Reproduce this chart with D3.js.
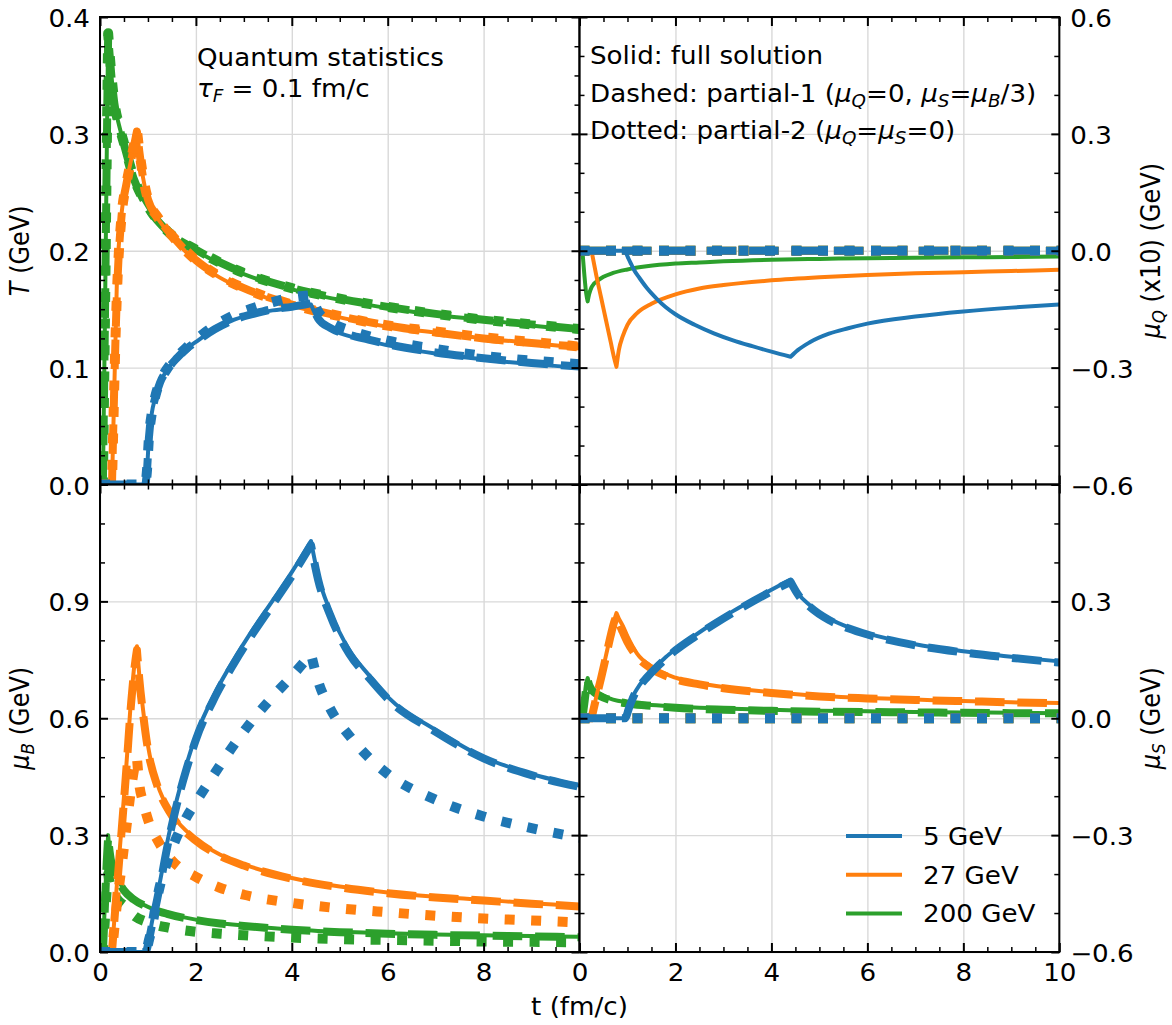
<!DOCTYPE html>
<html>
<head>
<meta charset="utf-8">
<script src="https://cdn.jsdelivr.net/npm/d3@7"></script>
<style>
  html, body { margin: 0; padding: 0; background: #ffffff; }
  svg { display: block; font-family: "DejaVu Sans", sans-serif; }
  text { white-space: pre; }
</style>
</head>
<body>
<svg id="fig" width="1172" height="1025"></svg>
<script>
// ---------------- data ----------------
// time grids (fm/c), one per collision energy
const time200 = [0, 0.06, 0.1, 0.14, 0.17, 0.2, 0.25, 0.3, 0.4, 0.5, 0.7, 1.0, 1.4, 2.0, 2.5, 3.0, 4.0, 5.0, 6.0, 7.0, 8.0, 9.0, 10.0];
const time27  = [0, 0.25, 0.35, 0.45, 0.55, 0.65, 0.72, 0.77, 0.82, 0.9, 1.0, 1.2, 1.5, 2.0, 2.5, 3.0, 4.0, 5.0, 6.0, 7.0, 8.0, 9.0, 10.0];
const time5   = [0, 0.95, 0.98, 1.02, 1.08, 1.15, 1.25, 1.4, 1.6, 1.8, 2.0, 2.4, 2.8, 3.2, 3.6, 4.0, 4.4, 4.55, 4.8, 5.2, 5.6, 6.0, 7.0, 8.0, 9.0, 10.0];
const timeFlat = [0, 10];
const zeroFlat = [0, 0];

// temperature T (GeV)
const T_200_full = [0, 0, 0.13, 0.28, 0.387, 0.37, 0.345, 0.327, 0.307, 0.292, 0.262, 0.237, 0.216, 0.200, 0.189, 0.180, 0.167, 0.158, 0.151, 0.145, 0.141, 0.136, 0.132];
const T_200_p1   = [0, 0, 0.13, 0.28, 0.385, 0.368, 0.344, 0.326, 0.306, 0.291, 0.262, 0.237, 0.217, 0.201, 0.190, 0.181, 0.168, 0.159, 0.152, 0.146, 0.141, 0.137, 0.133];
const T_200_p2   = [0, 0, 0.13, 0.28, 0.386, 0.369, 0.345, 0.327, 0.307, 0.292, 0.263, 0.238, 0.217, 0.201, 0.190, 0.181, 0.168, 0.159, 0.152, 0.146, 0.141, 0.137, 0.133];
const T_27_full  = [0, 0, 0.17, 0.232, 0.258, 0.278, 0.293, 0.303, 0.285, 0.262, 0.243, 0.228, 0.212, 0.191, 0.177, 0.167, 0.153, 0.143, 0.135, 0.130, 0.125, 0.121, 0.117];
const T_27_p1    = [0, 0, 0.16, 0.230, 0.257, 0.277, 0.292, 0.302, 0.285, 0.262, 0.244, 0.229, 0.213, 0.192, 0.178, 0.168, 0.154, 0.144, 0.136, 0.130, 0.125, 0.121, 0.118];
const T_27_p2    = [0, 0, 0.16, 0.230, 0.257, 0.278, 0.293, 0.303, 0.286, 0.263, 0.244, 0.229, 0.213, 0.192, 0.178, 0.168, 0.154, 0.144, 0.136, 0.131, 0.126, 0.122, 0.118];
const T_5_full   = [0, 0, 0.012, 0.040, 0.061, 0.074, 0.087, 0.098, 0.108, 0.116, 0.122, 0.133, 0.141, 0.146, 0.149, 0.151, 0.154, 0.141, 0.133, 0.127, 0.123, 0.119, 0.112, 0.107, 0.103, 0.100];
const T_5_p1     = [0, 0, 0.012, 0.040, 0.061, 0.074, 0.087, 0.098, 0.108, 0.116, 0.122, 0.133, 0.141, 0.146, 0.150, 0.152, 0.155, 0.142, 0.134, 0.128, 0.124, 0.120, 0.113, 0.108, 0.104, 0.101];
const T_5_p2     = [0, 0, 0.012, 0.040, 0.061, 0.075, 0.088, 0.099, 0.109, 0.117, 0.124, 0.136, 0.145, 0.151, 0.156, 0.160, 0.162, 0.148, 0.139, 0.132, 0.127, 0.123, 0.116, 0.110, 0.106, 0.103];

// electric charge chemical potential muQ (x10, GeV), full solution
const muQ_200_full = [0, 0, -0.06, -0.11, -0.13, -0.112, -0.094, -0.085, -0.075, -0.067, -0.057, -0.048, -0.040, -0.033, -0.030, -0.027, -0.023, -0.021, -0.019, -0.018, -0.017, -0.016, -0.015];
const muQ_27_full  = [0, 0, -0.063, -0.12, -0.177, -0.234, -0.274, -0.298, -0.255, -0.22, -0.19, -0.16, -0.136, -0.112, -0.097, -0.088, -0.076, -0.068, -0.062, -0.058, -0.055, -0.052, -0.049];
const muQ_5_full   = [0, 0, -0.008, -0.02, -0.035, -0.052, -0.07, -0.095, -0.122, -0.145, -0.163, -0.19, -0.212, -0.23, -0.245, -0.259, -0.272, -0.255, -0.235, -0.213, -0.199, -0.187, -0.169, -0.156, -0.146, -0.138];

// baryon chemical potential muB (GeV)
const muB_200_full = [0, 0, 0.12, 0.24, 0.30, 0.26, 0.225, 0.205, 0.18, 0.16, 0.136, 0.116, 0.099, 0.083, 0.074, 0.068, 0.058, 0.052, 0.048, 0.045, 0.043, 0.041, 0.039];
const muB_200_p1   = [0, 0, 0.11, 0.23, 0.295, 0.258, 0.222, 0.202, 0.178, 0.158, 0.135, 0.115, 0.098, 0.082, 0.073, 0.067, 0.057, 0.051, 0.047, 0.044, 0.042, 0.040, 0.038];
const muB_200_p2   = [0, 0, 0.08, 0.16, 0.20, 0.18, 0.16, 0.146, 0.13, 0.12, 0.094, 0.076, 0.063, 0.052, 0.047, 0.043, 0.037, 0.033, 0.031, 0.029, 0.027, 0.026, 0.025];
const muB_27_full  = [0, 0, 0.17, 0.32, 0.48, 0.65, 0.74, 0.785, 0.71, 0.62, 0.53, 0.43, 0.355, 0.29, 0.25, 0.225, 0.19, 0.168, 0.153, 0.142, 0.134, 0.125, 0.118];
const muB_27_p1    = [0, 0, 0.16, 0.31, 0.47, 0.64, 0.73, 0.775, 0.70, 0.61, 0.52, 0.425, 0.35, 0.286, 0.247, 0.222, 0.188, 0.166, 0.151, 0.140, 0.132, 0.124, 0.117];
const muB_27_p2    = [0, 0, 0.12, 0.22, 0.32, 0.42, 0.475, 0.50, 0.43, 0.385, 0.34, 0.287, 0.235, 0.193, 0.165, 0.147, 0.126, 0.112, 0.102, 0.093, 0.086, 0.081, 0.076];
const muB_5_full   = [0, 0, 0.01, 0.035, 0.075, 0.12, 0.18, 0.28, 0.39, 0.48, 0.555, 0.665, 0.752, 0.83, 0.902, 0.975, 1.055, 0.965, 0.875, 0.775, 0.712, 0.655, 0.57, 0.50, 0.457, 0.427];
const muB_5_p1     = [0, 0, 0.008, 0.03, 0.067, 0.11, 0.17, 0.268, 0.378, 0.468, 0.545, 0.655, 0.742, 0.82, 0.892, 0.965, 1.045, 0.955, 0.865, 0.765, 0.705, 0.65, 0.565, 0.497, 0.454, 0.424];
const muB_5_p2     = [0, 0, 0.01, 0.03, 0.06, 0.11, 0.17, 0.23, 0.295, 0.345, 0.385, 0.46, 0.533, 0.598, 0.655, 0.708, 0.765, 0.695, 0.625, 0.555, 0.50, 0.457, 0.391, 0.348, 0.318, 0.293];

// strangeness chemical potential muS (GeV)
const muS_200_full = [0, 0, 0.05, 0.09, 0.103, 0.09, 0.078, 0.072, 0.065, 0.058, 0.048, 0.041, 0.035, 0.030, 0.027, 0.025, 0.022, 0.019, 0.018, 0.016, 0.015, 0.014, 0.013];
const muS_200_p1   = [0, 0, 0.037, 0.077, 0.098, 0.086, 0.074, 0.067, 0.059, 0.053, 0.045, 0.038, 0.033, 0.027, 0.024, 0.022, 0.019, 0.017, 0.016, 0.015, 0.014, 0.013, 0.013];
const muS_27_full  = [0, 0, 0.055, 0.105, 0.16, 0.215, 0.25, 0.27, 0.256, 0.238, 0.21, 0.166, 0.133, 0.104, 0.09, 0.08, 0.067, 0.058, 0.052, 0.048, 0.044, 0.041, 0.039];
const muS_27_p1    = [0, 0, 0.053, 0.103, 0.157, 0.212, 0.246, 0.262, 0.245, 0.222, 0.195, 0.158, 0.127, 0.100, 0.087, 0.077, 0.065, 0.056, 0.051, 0.047, 0.044, 0.041, 0.039];
const muS_5_full   = [0, 0, 0.008, 0.025, 0.045, 0.065, 0.085, 0.107, 0.133, 0.157, 0.177, 0.212, 0.245, 0.275, 0.303, 0.330, 0.356, 0.322, 0.29, 0.256, 0.234, 0.218, 0.19, 0.172, 0.158, 0.146];
const muS_5_p1     = [0, 0, 0.006, 0.022, 0.042, 0.062, 0.082, 0.104, 0.130, 0.153, 0.174, 0.209, 0.241, 0.271, 0.299, 0.326, 0.350, 0.318, 0.286, 0.252, 0.231, 0.215, 0.187, 0.169, 0.155, 0.143];

// energies (drawn in this order so 5 GeV lies on top) and legend order
const drawOrder = ['200 GeV', '27 GeV', '5 GeV'];
const legendOrder = ['5 GeV', '27 GeV', '200 GeV'];
const energyColor = { '5 GeV': '#1f77b4', '27 GeV': '#ff7f0e', '200 GeV': '#2ca02c' };

// ticks and tick labels
const tDomain = [0, 10];
const xTicks = [0, 2, 4, 6, 8, 10];
const xTickLabelsLeft = [0, 2, 4, 6, 8];
const xTickLabelsRight = [0, 2, 4, 6, 8, 10];
const tTicks = [0, 0.1, 0.2, 0.3, 0.4];
const tTickLabels = [0, 0.1, 0.2, 0.3, 0.4];
const muBTicks = [0, 0.3, 0.6, 0.9, 1.2];
const muBTickLabels = [0, 0.3, 0.6, 0.9];
const muQTicks = [-0.6, -0.3, 0, 0.3, 0.6];
const muQTickLabels = [-0.6, -0.3, 0, 0.3, 0.6];
const muSTicks = [-0.6, -0.3, 0, 0.3, 0.6];
const muSTickLabels = [-0.6, -0.3, 0, 0.3];

// texts ([string, kind]; kind: '' regular, 'i' italic, 's' italic subscript)
const titleT   = [['T', 'i'], [' (GeV)', '']];
const titleMuQ = [['μ', 'i'], ['Q', 's'], [' (x10) (GeV)', '']];
const titleMuB = [['μ', 'i'], ['B', 's'], [' (GeV)', '']];
const titleMuS = [['μ', 'i'], ['S', 's'], [' (GeV)', '']];
const titleTime = [['t (fm/c)', '']];
const noteLeft = [
  [['Quantum statistics', '']],
  [['τ', 'i'], ['F', 's'], [' = 0.1 fm/c', '']]
];
const noteRight = [
  [['Solid: full solution', '']],
  [['Dashed: partial-1 (', ''], ['μ', 'i'], ['Q', 's'], ['=0, ', ''], ['μ', 'i'], ['S', 's'], ['=', ''], ['μ', 'i'], ['B', 's'], ['/3)', '']],
  [['Dotted: partial-2 (', ''], ['μ', 'i'], ['Q', 's'], ['=', ''], ['μ', 'i'], ['S', 's'], ['=0)', '']]
];

// series table: panel -> energy -> style -> [time, values]
const seriesTable = {
  T: {
    '200 GeV': { full: [time200, T_200_full], p1: [time200, T_200_p1], p2: [time200, T_200_p2] },
    '27 GeV':  { full: [time27, T_27_full],   p1: [time27, T_27_p1],   p2: [time27, T_27_p2] },
    '5 GeV':   { full: [time5, T_5_full],     p1: [time5, T_5_p1],     p2: [time5, T_5_p2] }
  },
  muQ: {
    '200 GeV': { full: [time200, muQ_200_full], p1: [timeFlat, zeroFlat], p2: [timeFlat, zeroFlat] },
    '27 GeV':  { full: [time27, muQ_27_full],   p1: [timeFlat, zeroFlat], p2: [timeFlat, zeroFlat] },
    '5 GeV':   { full: [time5, muQ_5_full],     p1: [timeFlat, zeroFlat], p2: [timeFlat, zeroFlat] }
  },
  muB: {
    '200 GeV': { full: [time200, muB_200_full], p1: [time200, muB_200_p1], p2: [time200, muB_200_p2] },
    '27 GeV':  { full: [time27, muB_27_full],   p1: [time27, muB_27_p1],   p2: [time27, muB_27_p2] },
    '5 GeV':   { full: [time5, muB_5_full],     p1: [time5, muB_5_p1],     p2: [time5, muB_5_p2] }
  },
  muS: {
    '200 GeV': { full: [time200, muS_200_full], p1: [time200, muS_200_p1], p2: [timeFlat, zeroFlat] },
    '27 GeV':  { full: [time27, muS_27_full],   p1: [time27, muS_27_p1],   p2: [timeFlat, zeroFlat] },
    '5 GeV':   { full: [time5, muS_5_full],     p1: [time5, muS_5_p1],     p2: [timeFlat, zeroFlat] }
  }
};

// ---------------- drawing ----------------
const FONT = 24;
const STRETCH = 1.09;       // glyphs are drawn slightly wide
const SUB_DY = 5;

const lineStyles = {
  full: { width: 4,  dash: null },
  p1:   { width: 8,  dash: [3.7, 1.6] },
  p2:   { width: 10, dash: [1, 1.65] }
};

const layout = {
  left: [100, 579.5], right: [579.5, 1059.3],
  top: [17, 484.5], bottom: [484.5, 952]
};

const panelDefs = [
  { key: 'T',   col: 'left',  row: 'top',    domain: [0, 0.4],    ticks: tTicks,   labels: tTickLabels,   minor: 0.025, side: 'left',  xLabels: null,             title: titleT },
  { key: 'muQ', col: 'right', row: 'top',    domain: [-0.6, 0.6], ticks: muQTicks, labels: muQTickLabels, minor: 0.1,   side: 'right', xLabels: null,             title: titleMuQ },
  { key: 'muB', col: 'left',  row: 'bottom', domain: [0, 1.2],    ticks: muBTicks, labels: muBTickLabels, minor: 0.1,   side: 'left',  xLabels: xTickLabelsLeft,  title: titleMuB },
  { key: 'muS', col: 'right', row: 'bottom', domain: [-0.6, 0.6], ticks: muSTicks, labels: muSTickLabels, minor: 0.1,   side: 'right', xLabels: xTickLabelsRight, title: titleMuS }
];

const svg = d3.select('#fig');
const defs = svg.append('defs');
const fmtY = d3.format('.1f');
const fmtX = d3.format('d');

function richText(parent, parts, anchor) {
  const text = parent.append('text')
    .attr('font-size', FONT)
    .attr('fill', '#000')
    .attr('text-anchor', anchor || 'start');
  let shift = 0;
  parts.forEach(([str, kind]) => {
    const sp = text.append('tspan').text(str);
    if (kind === 'i' || kind === 's') sp.attr('font-style', 'italic');
    if (kind === 's') sp.attr('font-size', FONT * 0.7);
    const target = kind === 's' ? SUB_DY : 0;
    if (target !== shift) { sp.attr('dy', target - shift); shift = target; }
  });
  return text;
}

function placeText(x, y, parts, anchor, rotate) {
  const g = svg.append('g').attr('transform', `translate(${x},${y})` + (rotate ? ` rotate(${rotate})` : ''));
  const t = richText(g, parts, anchor);
  t.attr('transform', rotate ? `scale(1,${STRETCH})` : `scale(${STRETCH},1)`);
  return t;
}

function styleAxis(sel, width) {
  sel.select('.domain').remove();
  sel.selectAll('.tick line').attr('stroke', '#000').attr('stroke-width', width);
  sel.attr('font-size', FONT).attr('font-family', '"DejaVu Sans", sans-serif');
  sel.selectAll('text').attr('fill', '#000').attr('transform', `scale(${STRETCH},1)`);
}

function minorValues(domain, step, majors) {
  return d3.range(domain[0], domain[1] + step * 0.01, step)
    .filter(v => !majors.some(m => Math.abs(m - v) < step * 0.01));
}

// Smooth each monotone stretch of a curve, keeping corners sharp where the
// direction changes; the pieces are joined into one continuous path so the
// dash pattern runs on without restarting.
function curvePath(points, x, y) {
  const runs = [];
  let start = 0, prev = null;
  for (let i = 1; i < points.length; i++) {
    const s = Math.sign(points[i][1] - points[i - 1][1]);
    if (prev !== null && s !== prev) { runs.push(points.slice(start, i)); start = i - 1; }
    prev = s;
  }
  runs.push(points.slice(start));
  const gen = d3.line().x(d => x(d[0])).y(d => y(d[1])).curve(d3.curveMonotoneX);
  return runs.map((r, k) => { const d = gen(r); return k === 0 ? d : 'L' + d.slice(1); }).join('');
}

panelDefs.forEach(p => {
  const [x0, x1] = layout[p.col];
  const [y0, y1] = layout[p.row];
  const w = x1 - x0, h = y1 - y0;
  const x = d3.scaleLinear().domain(tDomain).range([0, w]);
  const y = d3.scaleLinear().domain(p.domain).range([h, 0]);
  const g = svg.append('g').attr('transform', `translate(${x0},${y0})`);

  // grid
  const gx = g.append('g').attr('transform', `translate(0,${h})`)
    .call(d3.axisBottom(x).tickValues(xTicks).tickSize(-h).tickFormat(''));
  const gy = g.append('g')
    .call(d3.axisLeft(y).tickValues(p.ticks).tickSize(-w).tickFormat(''));
  [gx, gy].forEach(a => {
    a.select('.domain').remove();
    a.selectAll('line').attr('stroke', '#d9d9d9').attr('stroke-width', 1.4);
  });

  // curves
  defs.append('clipPath').attr('id', `clip-${p.key}`)
    .append('rect').attr('x', 0).attr('y', 0).attr('width', w).attr('height', h);
  const plot = g.append('g').attr('clip-path', `url(#clip-${p.key})`);
  drawOrder.forEach(e => {
    ['full', 'p1', 'p2'].forEach(s => {
      const [tt, vv] = seriesTable[p.key][e][s];
      const st = lineStyles[s];
      plot.append('path')
        .datum(d3.zip(tt, vv))
        .attr('d', d => curvePath(d, x, y))
        .attr('fill', 'none')
        .attr('stroke', energyColor[e])
        .attr('stroke-width', st.width)
        .attr('stroke-linejoin', 'round')
        .attr('stroke-linecap', st.dash ? 'butt' : 'square')
        .attr('stroke-dasharray', st.dash ? st.dash.map(d => d * st.width).join(',') : null);
    });
  });

  // ticks on all four sides, pointing inward
  const xMinor = minorValues(tDomain, 0.5, xTicks);
  const yMinor = minorValues(p.domain, p.minor, p.ticks);

  const bottom = g.append('g').attr('transform', `translate(0,${h})`)
    .call(d3.axisBottom(x).tickValues(xTicks).tickSizeInner(-9).tickSizeOuter(0).tickPadding(11.5)
      .tickFormat(d => (p.xLabels && p.xLabels.includes(d)) ? fmtX(d) : ''));
  styleAxis(bottom, 2);
  styleAxis(g.append('g').attr('transform', `translate(0,${h})`)
    .call(d3.axisBottom(x).tickValues(xMinor).tickSize(-5).tickFormat('')), 1.5);
  styleAxis(g.append('g')
    .call(d3.axisTop(x).tickValues(xTicks).tickSize(-9).tickFormat('')), 2);
  styleAxis(g.append('g')
    .call(d3.axisTop(x).tickValues(xMinor).tickSize(-5).tickFormat('')), 1.5);

  const leftAx = d3.axisLeft(y).tickValues(p.ticks).tickSizeInner(-8).tickSizeOuter(0).tickPadding(9.2)
    .tickFormat(d => (p.side === 'left' && p.labels.includes(d)) ? fmtY(d) : '');
  const la = g.append('g').call(leftAx);
  styleAxis(la, 2);
  la.selectAll('text').attr('dy', '0.4em');
  styleAxis(g.append('g').call(d3.axisLeft(y).tickValues(yMinor).tickSize(-5).tickFormat('')), 1.5);

  const rightAx = d3.axisRight(y).tickValues(p.ticks).tickSizeInner(-8).tickSizeOuter(0).tickPadding(10)
    .tickFormat(d => (p.side === 'right' && p.labels.includes(d)) ? fmtY(d) : '');
  const ra = g.append('g').attr('transform', `translate(${w},0)`).call(rightAx);
  styleAxis(ra, 2);
  ra.selectAll('text').attr('dy', '0.4em');
  styleAxis(g.append('g').attr('transform', `translate(${w},0)`)
    .call(d3.axisRight(y).tickValues(yMinor).tickSize(-5).tickFormat('')), 1.5);

  // frame
  g.append('rect').attr('x', 0).attr('y', 0).attr('width', w).attr('height', h)
    .attr('fill', 'none').attr('stroke', '#000').attr('stroke-width', 2);

  // axis title
  const cy = y0 + h / 2;
  if (p.side === 'left') placeText(29, cy, p.title, 'middle', -90);
  else placeText(1160, cy, p.title, 'middle', -90);
});

// shared x title
placeText(579.5, 1015, titleTime, 'middle');

// annotations
noteLeft.forEach((parts, i) => placeText(197, 66 + i * 31, parts, 'start'));
noteRight.forEach((parts, i) => placeText(590, 64 + i * 37.5, parts, 'start'));

// legend (lower right of the muS panel)
const legend = svg.append('g');
legendOrder.forEach((e, i) => {
  const ly = 836 + i * 38.7;
  legend.append('line')
    .attr('x1', 846).attr('x2', 902).attr('y1', ly).attr('y2', ly)
    .attr('stroke', energyColor[e]).attr('stroke-width', 4);
  placeText(923, ly + 9, [[e, '']], 'start');
});
</script>
</body>
</html>
